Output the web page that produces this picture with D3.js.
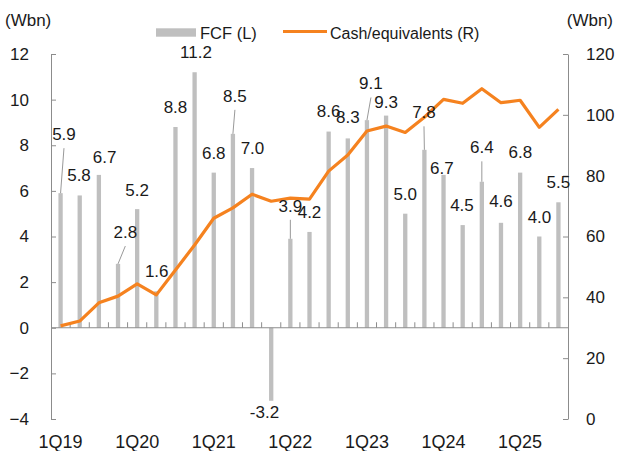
<!DOCTYPE html>
<html>
<head>
<meta charset="utf-8">
<script src="https://cdn.jsdelivr.net/npm/d3@7"></script>
<style>
  body { margin: 0; background: #fff; }
  svg { display: block; font-family: "Liberation Sans", Arial, sans-serif; }
</style>
</head>
<body>
<div id="chart"></div>
<script>
// quarters 1Q19 .. 3Q25
const quarters = [];
for (let y = 19; y <= 25; y++) {
    for (let q = 1; q <= 4; q++) {
        if (y === 25 && q > 3) break;
        quarters.push(q + 'Q' + y);
    }
}

// FCF (Wbn, left axis)
const fcf = [5.9, 5.8, 6.7, 2.8, 5.2, 1.6, 8.8, 11.2, 6.8, 8.5, 7.0, -3.2, 3.9, 4.2,
             8.6, 8.3, 9.1, 9.3, 5.0, 7.8, 6.7, 4.5, 6.4, 4.6, 6.8, 4.0, 5.5];

// Cash/equivalents (Wbn, right axis)
const cash = [30.6, 32.2, 38.2, 40.4, 44.4, 40.8, 49, 57.2, 66, 69.4, 73.9, 71.6, 72.6, 72.3,
              81.5, 86.8, 94.7, 96.3, 94.2, 99.2, 105.1, 103.8, 108.6, 104, 104.8, 95.9, 101.8];

const leftTicks = [-4, -2, 0, 2, 4, 6, 8, 10, 12];
const rightTicks = [0, 20, 40, 60, 80, 100, 120];

// label nudges [dx, baseline offset from bar end] in px
const labelNudge = [[3.4, -53], [-0.7, -14.7], [5.8, -11.8], [7.3, -25.8], [0, -13], [0.4, -14.3],
    [0, -14.3], [1.4, -13.9], [0, -13.6], [2, -32], [0.4, -14], [-6.7, 17.7], [0, -27], [0, -13.8],
    [0, -15], [0, -15], [4, -30.7], [0, -7.3], [0, -13.6], [-0.4, -31.5], [-1.6, -0.8], [-0.7, -14.3],
    [0, -28.4], [0, -15.4], [0.3, -14.3], [0.2, -13.7], [0, -13.9]];

const W = 619, H = 451;
const axisColor = '#8c8c8c';
const barColor = '#bfbfbf';
const lineColor = '#f5821f';

const svg = d3.select('#chart').append('svg')
    .attr('width', W)
    .attr('height', H);

const x = d3.scaleBand().domain(quarters).range([51, 568]).padding(0);
const yL = d3.scaleLinear().domain([-4, 12]).range([419, 54]);
const yR = d3.scaleLinear().domain([0, 120]).range([419, 54]);
const cx = q => x(q) + x.bandwidth() / 2;
const barW = 4.3;

// bars
svg.append('g').selectAll('rect')
    .data(fcf)
    .enter()
    .append('rect')
    .attr('x', (d, i) => cx(quarters[i]) - barW / 2)
    .attr('y', d => yL(Math.max(0, d)))
    .attr('width', barW)
    .attr('height', d => Math.abs(yL(d) - yL(0)))
    .attr('fill', barColor);

// left axis
const gL = svg.append('g')
    .attr('transform', 'translate(51,0)')
    .call(d3.axisLeft(yL).tickValues(leftTicks).tickSize(-5).tickPadding(22).tickSizeOuter(0));

// right axis
const gR = svg.append('g')
    .attr('transform', 'translate(568,0)')
    .call(d3.axisRight(yR).tickValues(rightTicks).tickSize(-5).tickPadding(18).tickSizeOuter(0));

[gL, gR].forEach(g => {
    g.select('.domain').attr('stroke', axisColor);
    g.selectAll('.tick line').attr('stroke', axisColor);
    g.selectAll('.tick text')
        .attr('fill', '#1a1a1a')
        .style('font-size', '17px')
        .style('font-family', '"Liberation Sans", Arial, sans-serif');
});

// zero line with inner ticks at category boundaries
const zeroY = yL(0);
svg.append('line')
    .attr('x1', 51).attr('x2', 568)
    .attr('y1', zeroY).attr('y2', zeroY)
    .attr('stroke', axisColor);

svg.append('g').selectAll('line')
    .data(quarters.slice(1))
    .enter()
    .append('line')
    .attr('x1', d => x(d)).attr('x2', d => x(d))
    .attr('y1', zeroY).attr('y2', zeroY - 5.5)
    .attr('stroke', axisColor);

// x labels (first quarter of each year)
svg.append('g').selectAll('text')
    .data(quarters.filter(q => q.startsWith('1Q')))
    .enter()
    .append('text')
    .attr('x', d => cx(d))
    .attr('y', 447.5)
    .attr('text-anchor', 'middle')
    .attr('font-size', 18)
    .attr('fill', '#1a1a1a')
    .text(d => d);

// cash line
const line = d3.line()
    .x((d, i) => cx(quarters[i]))
    .y(d => yR(d));

svg.append('path')
    .datum(cash)
    .attr('d', line)
    .attr('fill', 'none')
    .attr('stroke', lineColor)
    .attr('stroke-width', 3.2)
    .attr('stroke-linejoin', 'round');

// data labels + leaders
const labels = fcf.map((v, i) => {
    const end = yL(v);
    const [dx, dy] = labelNudge[i];
    return {v, bx: cx(quarters[i]), end, lx: cx(quarters[i]) + dx, ly: end + dy};
});

svg.append('g').selectAll('line')
    .data(labels.filter((d, i) => labelNudge[i][1] < -20))
    .enter()
    .append('line')
    .attr('x1', d => d.bx).attr('y1', d => d.end)
    .attr('x2', d => d.lx).attr('y2', d => d.ly + 8)
    .attr('stroke', '#999')
    .attr('stroke-width', 1);

svg.append('g').selectAll('text')
    .data(labels)
    .enter()
    .append('text')
    .attr('x', d => d.lx)
    .attr('y', d => d.ly)
    .attr('text-anchor', 'middle')
    .attr('font-size', 17)
    .attr('fill', '#1a1a1a')
    .text(d => d.v.toFixed(1));

// unit labels
svg.append('text').attr('x', 5).attr('y', 26).attr('font-size', 17).attr('fill', '#1a1a1a').text('(Wbn)');
svg.append('text').attr('x', 613).attr('y', 26).attr('text-anchor', 'end').attr('font-size', 17).attr('fill', '#1a1a1a').text('(Wbn)');

// legend
const legend = svg.append('g');
legend.append('rect').attr('x', 156).attr('y', 28.3).attr('width', 40).attr('height', 8.4).attr('fill', barColor);
legend.append('text').attr('x', 200).attr('y', 38.5).attr('font-size', 16.5).attr('fill', '#1a1a1a').text('FCF (L)');
legend.append('line').attr('x1', 283).attr('x2', 327).attr('y1', 31.5).attr('y2', 31.5)
    .attr('stroke', lineColor).attr('stroke-width', 3.2);
legend.append('text').attr('x', 330).attr('y', 38.5).attr('font-size', 16).attr('fill', '#1a1a1a').text('Cash/equivalents (R)');
</script>
</body>
</html>
